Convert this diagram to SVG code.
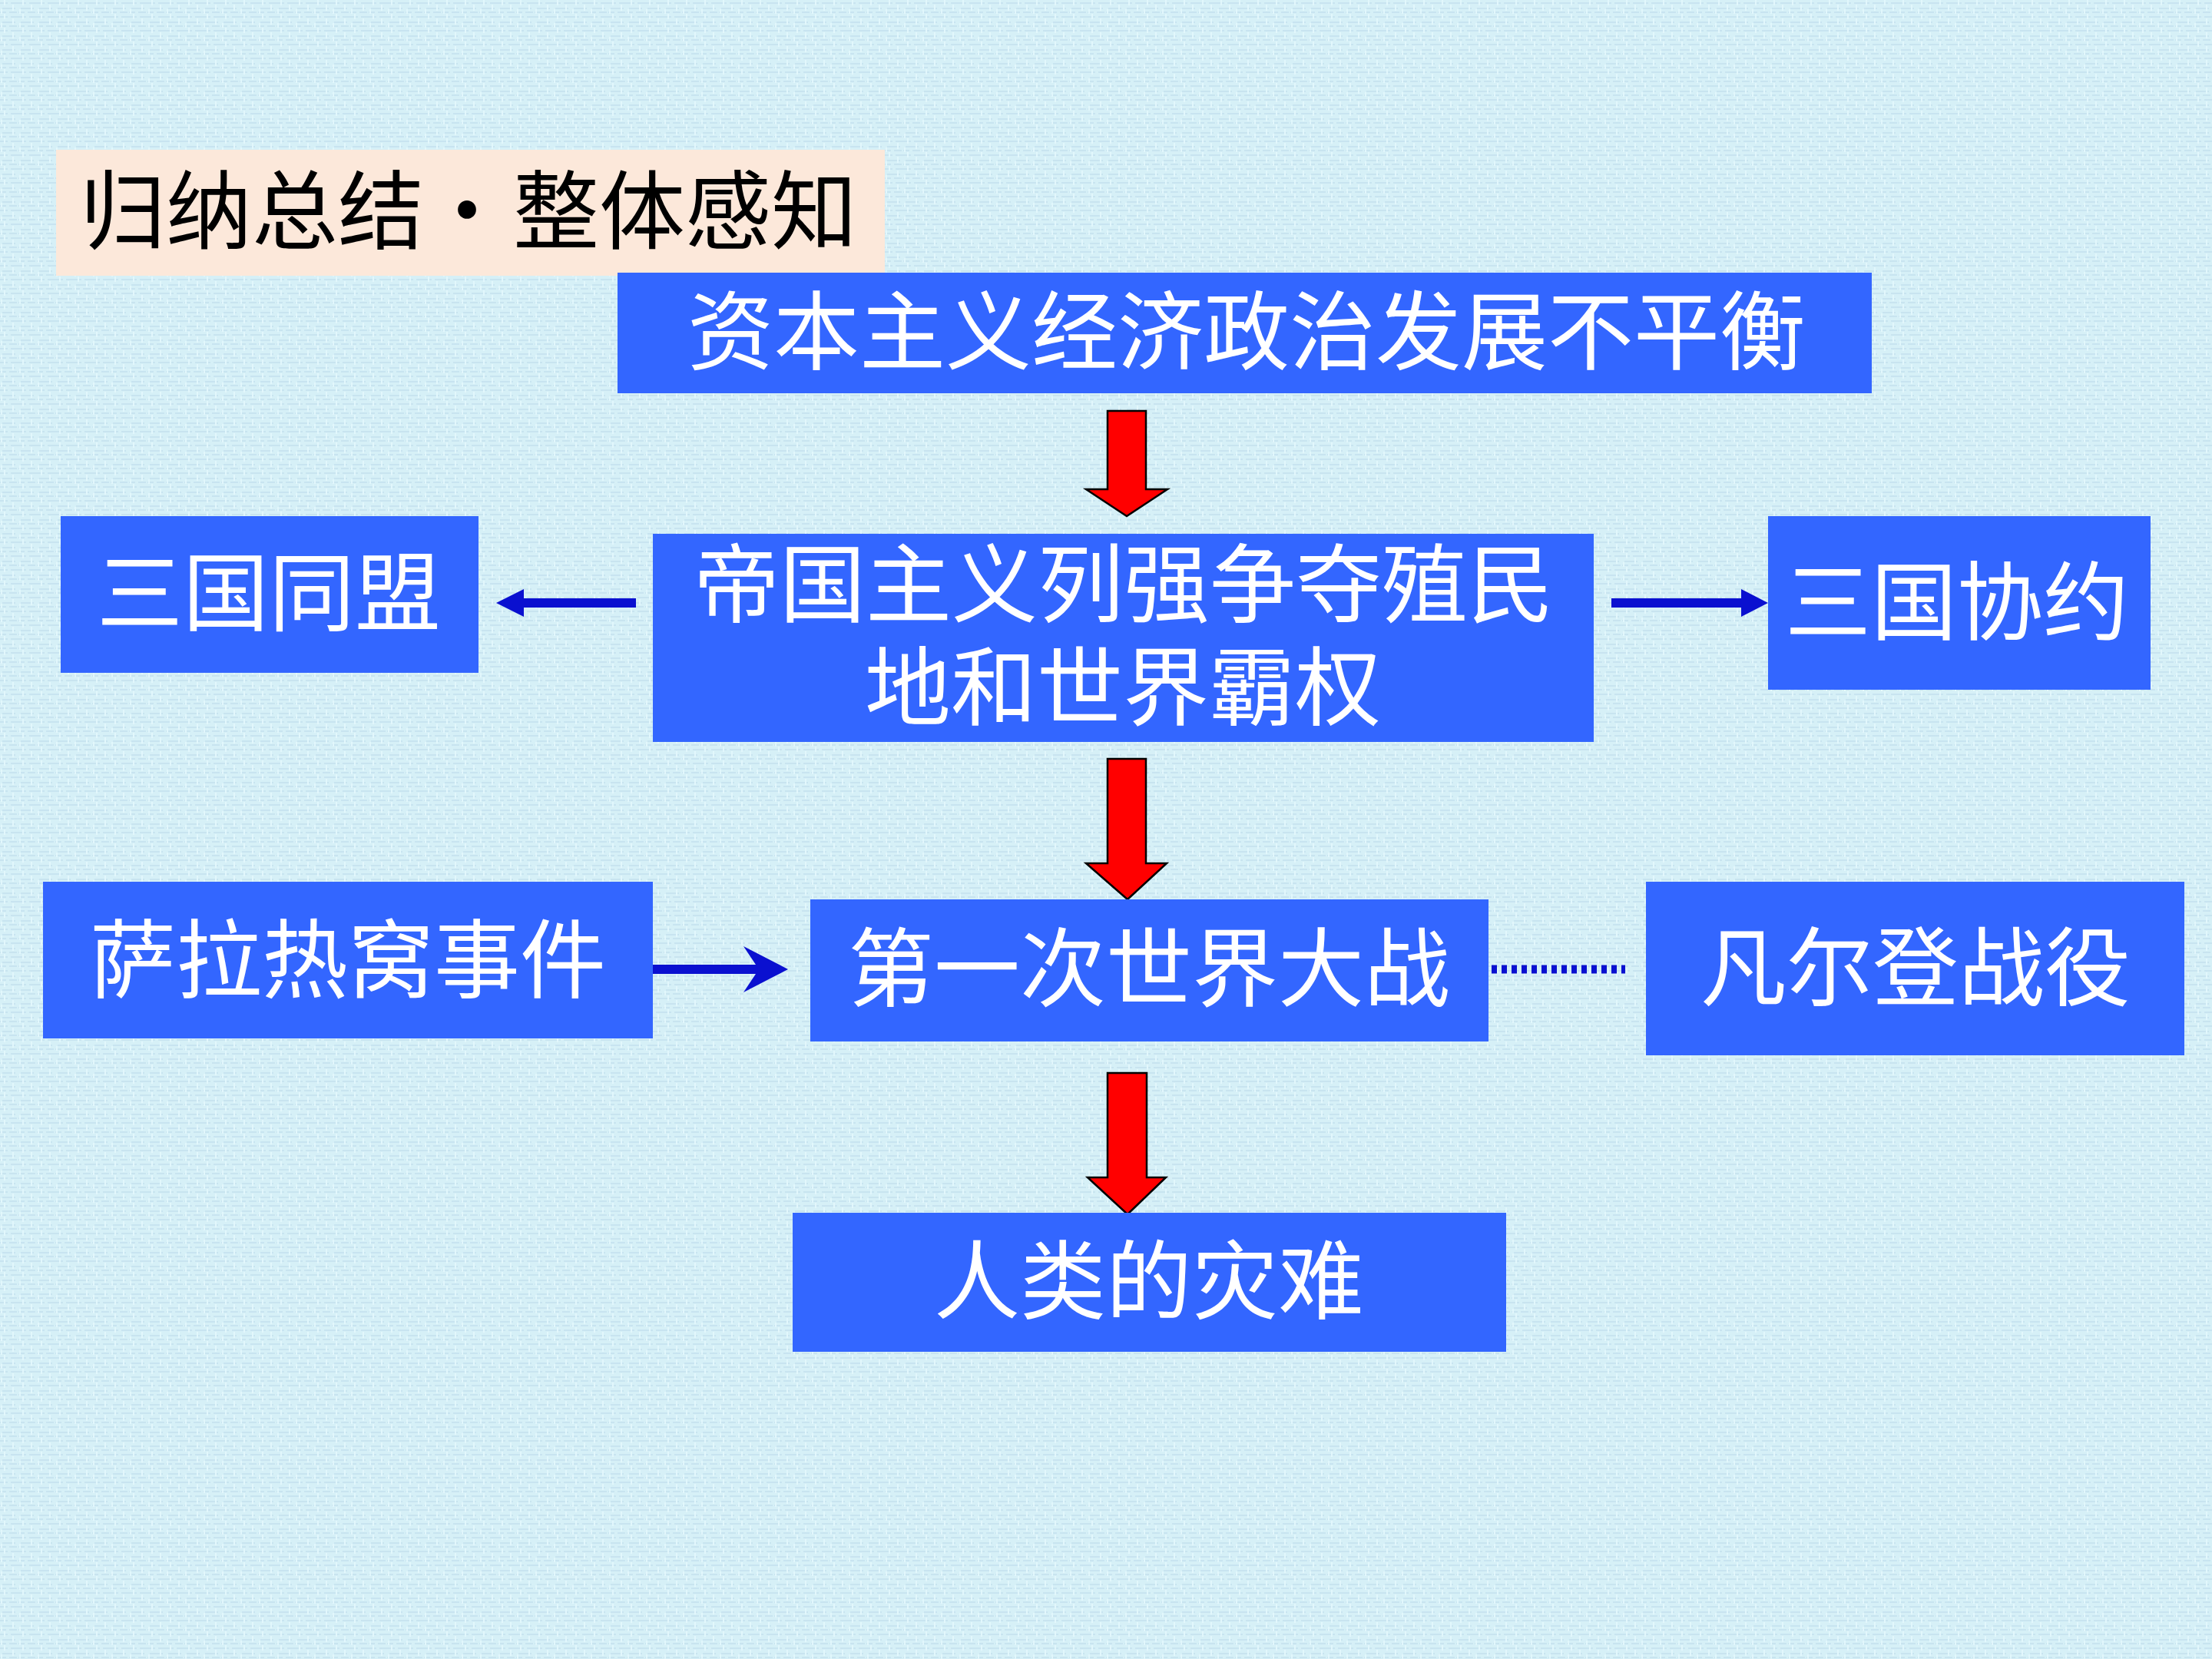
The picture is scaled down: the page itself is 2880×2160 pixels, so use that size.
<svg xmlns="http://www.w3.org/2000/svg" width="2880" height="2160" viewBox="0 0 2880 2160">
<defs>
<style>
.box{fill:#3366FF}
.t{font-family:"Noto Sans CJK SC","Liberation Sans",sans-serif;font-size:112px;fill:#FFFFFF;text-anchor:middle}
.title{font-family:"Noto Sans CJK SC","Liberation Sans",sans-serif;font-size:112px;fill:#000000}
.red{fill:#FF0000;stroke:#000000;stroke-width:2.5;stroke-linejoin:miter}
.blue{fill:#0A10D0}
</style>
<pattern id="tex" width="24" height="18" patternUnits="userSpaceOnUse">
<rect width="24" height="18" fill="#D6F0F7"/>
<path d="M0 4H10M14 4H24M3 11H20M0 16H8M12 16H22" stroke="#C8E4F0" stroke-width="2"/>
<path d="M6 0V7M17 6V14M2 12V18" stroke="#E2F7FC" stroke-width="2"/>
</pattern>
</defs>
<rect width="2880" height="2160" fill="url(#tex)"/>

<g id="title">
<rect x="73" y="195" width="1079" height="164" fill="#FCE8DA"/>
<text class="title" x="104" y="316">归纳总结</text>
<text class="title" x="608" y="316" text-anchor="middle">•</text>
<text class="title" x="668" y="316">整体感知</text>
</g>

<g id="connectors">
<path class="red" d="M1442 535H1492V637H1520L1467 672L1414 637H1442Z"/>
<path class="red" d="M1442 988H1492V1124H1519L1468 1171L1414 1124H1442Z"/>
<path class="red" d="M1442 1397H1493V1533H1518L1468 1581L1416 1533H1442Z"/>
<path class="blue" d="M828 779H682V767L646 785L682 803V791H828Z"/>
<path class="blue" d="M2098 779H2267V767L2302 785L2267 803V791H2098Z"/>
<path class="blue" d="M828 1256H984L968 1232L1026 1262L968 1292L984 1268H828Z"/>
<line x1="1942" y1="1262" x2="2116" y2="1262" stroke="#0A10D0" stroke-width="11" stroke-dasharray="7 6"/>
</g>

<g id="node-imbalance">
<rect class="box" x="804" y="355" width="1633" height="157"/>
<text class="t" x="1623" y="473">资本主义经济政治发展不平衡</text>
</g>

<g id="node-imperialism">
<rect class="box" x="850" y="695" width="1225" height="271"/>
<text class="t" x="1463" y="802">帝国主义列强争夺殖民</text>
<text class="t" x="1462" y="936">地和世界霸权</text>
</g>

<g id="node-triple-alliance">
<rect class="box" x="79" y="672" width="544" height="204"/>
<text class="t" x="350" y="813">三国同盟</text>
</g>

<g id="node-triple-entente">
<rect class="box" x="2302" y="672" width="498" height="226"/>
<text class="t" x="2548" y="825">三国协约</text>
</g>

<g id="node-sarajevo">
<rect class="box" x="56" y="1148" width="794" height="204"/>
<text class="t" x="453" y="1291">萨拉热窝事件</text>
</g>

<g id="node-ww1">
<rect class="box" x="1055" y="1171" width="883" height="185"/>
<text class="t" x="1496" y="1302">第一次世界大战</text>
</g>

<g id="node-verdun">
<rect class="box" x="2143" y="1148" width="701" height="226"/>
<text class="t" x="2494" y="1301">凡尔登战役</text>
</g>

<g id="node-disaster">
<rect class="box" x="1032" y="1579" width="929" height="181"/>
<text class="t" x="1496" y="1709">人类的灾难</text>
</g>
</svg>
